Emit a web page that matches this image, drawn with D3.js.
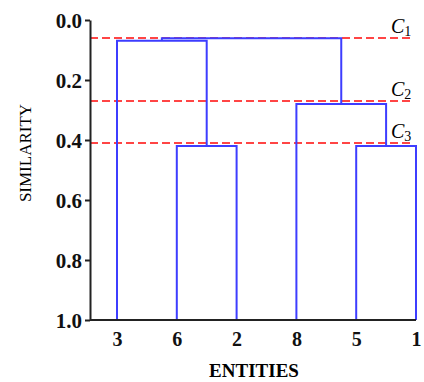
<!DOCTYPE html>
<meta charset="utf-8">
<script src="https://d3js.org/d3.v7.min.js"></script>
<style>
  body { margin: 0; background: #fff; }
  text { font-family: "Liberation Serif", "Times New Roman", serif; }
</style>
<div id="vis"></div>
<script>

// leaf order along the x axis
var entities = ["3", "6", "2", "8", "5", "1"];

// merges: children (leaf name or merge index "m0".."m4") and height
var mergeLeft   = ["6",    "5",    "8",    "3",    "m3"];
var mergeRight  = ["2",    "1",    "m1",   "m0",   "m2"];
var mergeHeight = [0.42,   0.42,   0.28,   0.069,  0.061];

// cut levels drawn as dashed lines
var cutLevels = [0.06, 0.27, 0.41];
var cutLabels = ["1", "2", "3"];

var yTicks = [0, 0.2, 0.4, 0.6, 0.8, 1.0];

var margin = {top: 20, right: 8, bottom: 62, left: 90},
    width = 424 - margin.left - margin.right,
    height = 382 - margin.top - margin.bottom;

var svg = d3.select("#vis")
  .append("svg")
    .attr("width", 424)
    .attr("height", 382)
  .append("g")
    .attr("transform", "translate(" + margin.left + "," + margin.top + ")");

var x = d3.scalePoint()
  .domain(entities)
  .range([27, 326]);

var y = d3.scaleLinear()
  .domain([0, 1])
  .range([0, 300]);

// red cut lines
svg.append("g")
  .selectAll("line")
  .data(cutLevels)
  .enter()
  .append("line")
    .attr("x1", 0)
    .attr("x2", 323)
    .attr("y1", function(d) { return y(d); })
    .attr("y2", function(d) { return y(d); })
    .style("stroke", "#ff4545")
    .style("stroke-width", 2)
    .style("stroke-dasharray", "8,4");

// C labels
var cl = svg.append("g")
  .selectAll("text")
  .data(cutLevels)
  .enter()
  .append("text")
    .attr("x", 301)
    .attr("y", function(d) { return y(d) - 5; })
    .style("font-size", "20px");
cl.append("tspan")
  .style("font-style", "italic")
  .text("C");
cl.append("tspan")
  .attr("dy", 3)
  .style("font-size", "14px")
  .text(function(d, i) { return cutLabels[i]; });

// dendrogram nodes
var nodes = {};
entities.forEach(function(e) { nodes[e] = {x: x(e), h: 1}; });
var links = [];
mergeLeft.forEach(function(a, i) {
  var na = nodes[a], nb = nodes[mergeRight[i]];
  var n = {x: (na.x + nb.x) / 2, h: mergeHeight[i]};
  nodes["m" + i] = n;
  links.push({a: na, b: nb, h: mergeHeight[i]});
});

svg.append("g")
  .selectAll("path")
  .data(links)
  .enter()
  .append("path")
    .attr("d", function(d) {
      return "M" + d.a.x + "," + y(d.a.h) +
             "V" + y(d.h) + "H" + d.b.x + "V" + y(d.b.h);
    })
    .style("fill", "none")
    .style("stroke", "#3d3dff")
    .style("stroke-width", 2);

// Y axis
var yAxis = svg.append("g")
  .call(d3.axisLeft(y)
    .tickValues(yTicks)
    .tickFormat(d3.format(".1f"))
    .tickSize(5)
    .tickSizeOuter(0)
    .tickPadding(3));
yAxis.selectAll("path, line").style("stroke", "#222").style("stroke-width", 2);
yAxis.selectAll("text")
  .style("font-size", "21px")
  .style("font-weight", "bold")
  .style("font-family", "'Liberation Serif', serif")
  .attr("dy", "0.35em")
  .style("fill", "#111");

// X axis line
svg.append("line")
  .attr("x1", 0)
  .attr("x2", 326)
  .attr("y1", height)
  .attr("y2", height)
  .style("stroke", "#222")
  .style("stroke-width", 2);

var xAxis = svg.append("g")
  .attr("transform", "translate(0," + height + ")")
  .call(d3.axisBottom(x).tickSize(0).tickPadding(12));
xAxis.select(".domain").remove();
xAxis.selectAll("text")
  .style("font-size", "20px")
  .style("font-weight", "bold")
  .style("font-family", "'Liberation Serif', serif")
  .style("fill", "#111");

// axis labels
svg.append("text")
  .attr("x", 164)
  .attr("y", 357)
  .style("text-anchor", "middle")
  .style("font-size", "19px")
  .style("font-weight", "bold")
  .text("ENTITIES");

svg.append("text")
  .attr("transform", "rotate(-90)")
  .attr("x", -133)
  .attr("y", -59)
  .style("text-anchor", "middle")
  .style("font-size", "17px")
  .text("SIMILARITY");

</script>
